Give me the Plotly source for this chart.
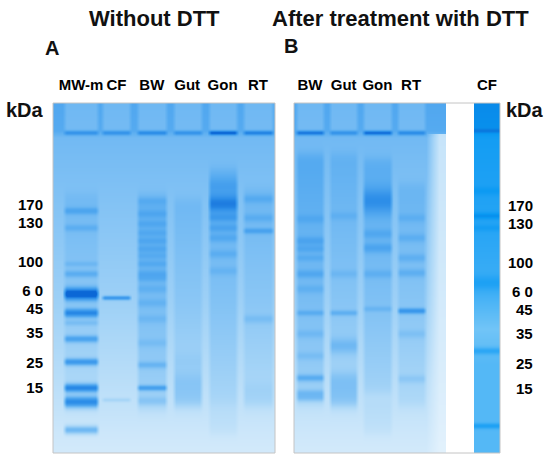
import numpy as np
import plotly.graph_objects as go

# lane names as printed above the gels
lanes_a = ["MW-m", "CF", "BW", "Gut", "Gon", "RT"]
lanes_b = ["BW", "Gut", "Gon", "RT"]
lanes_cf = ["CF"]

# marker sizes (kDa) and where their labels sit (px of migration below the gel top)
kda_text = ["170", "130", "100", "6 0", "45", "35", "25", "15"]
kda_pos = [102, 120, 159, 188, 206, 230, 260, 285]

# bands: migration (px below gel top), extra stain 0-1, band spread (px)
a_mw_pos = [29, 107, 124, 160, 170, 190, 209, 219, 235, 258, 284, 298, 326]
a_mw_int = [0.2, 0.15, 0.1, 0.08, 0.15, 0.7, 0.45, 0.1, 0.3, 0.4, 0.55, 0.55, 0.35]
a_mw_spr = [3, 5, 5, 4, 5, 8, 6, 4, 5, 5, 6, 8, 6]
a_mw_smear = [(90, 305, 0.06)]

a_cf_pos = [29, 194, 296]
a_cf_int = [0.2, 0.38, 0.1]
a_cf_spr = [3, 3, 3]
a_cf_smear = []

a_bw_pos = [29, 97, 110, 120, 129, 137, 145, 152, 160, 170, 175, 185, 199, 215, 239, 261, 284, 297]
a_bw_int = [0.25, 0.05, 0.08, 0.08, 0.08, 0.1, 0.1, 0.08, 0.1, 0.12, 0.08, 0.08, 0.08, 0.07, 0.07, 0.15, 0.32, 0.1]
a_bw_spr = [3, 5, 5, 5, 5, 5, 5, 5, 5, 6, 5, 6, 6, 6, 6, 5, 4, 6]
a_bw_smear = [(92, 305, 0.13)]

a_gut_pos = [29]
a_gut_int = [0.2]
a_gut_spr = [3]
a_gut_smear = [(95, 250, 0.07), (250, 272, 0.12), (272, 302, 0.2)]

a_gon_pos = [29, 82, 100, 114, 124, 134, 150, 167]
a_gon_int = [0.45, 0.12, 0.35, 0.16, 0.14, 0.11, 0.09, 0.07]
a_gon_spr = [3, 12, 13, 6, 6, 6, 6, 6]
a_gon_smear = [(65, 300, 0.1), (300, 330, 0.05)]

a_rt_pos = [29, 95, 114, 127, 215]
a_rt_int = [0.3, 0.09, 0.09, 0.18, 0.09]
a_rt_spr = [3, 6, 6, 4, 6]
a_rt_smear = [(85, 280, 0.07), (280, 302, 0.12)]

b_bw_pos = [29, 115, 137, 145, 154, 170, 185, 209, 230, 252, 274, 289, 294]
b_bw_int = [0.35, 0.07, 0.12, 0.1, 0.08, 0.12, 0.08, 0.13, 0.08, 0.08, 0.22, 0.15, 0.15]
b_bw_spr = [3, 6, 6, 5, 5, 6, 6, 4, 6, 6, 5, 5, 5]
b_bw_smear = [(50, 300, 0.13)]

b_gut_pos = [29, 112, 170, 209, 242]
b_gut_int = [0.2, 0.06, 0.07, 0.16, 0.15]
b_gut_spr = [3, 6, 6, 4, 11]
b_gut_smear = [(50, 270, 0.08), (270, 302, 0.24)]

b_gon_pos = [29, 97, 130, 144, 170, 205]
b_gon_int = [0.4, 0.25, 0.1, 0.14, 0.09, 0.09]
b_gon_spr = [3, 18, 7, 7, 6, 4]
b_gon_smear = [(55, 290, 0.11), (295, 330, 0.05)]

b_rt_pos = [29, 114, 134, 154, 169, 207, 230, 275]
b_rt_int = [0.25, 0.07, 0.09, 0.1, 0.12, 0.33, 0.08, 0.09]
b_rt_spr = [3, 6, 6, 6, 6, 4, 6, 6]
b_rt_smear = [(80, 302, 0.08)]

b_cf_pos = [27, 87, 112, 124, 179, 247, 322]
b_cf_int = [0.1, 0.08, 0.15, 0.08, 0.12, 0.18, 0.2]
b_cf_spr = [3, 6, 5, 5, 10, 5, 4]

# gel background stain along the run
gel_bg_y = [0, 27, 34, 120, 200, 300, 350]
gel_bg_v = [0.62, 0.6, 0.5, 0.42, 0.34, 0.2, 0.12]
cf_bg_y = [0, 25, 35, 120, 190, 225, 260, 350]
cf_bg_v = [0.9, 0.88, 0.8, 0.72, 0.62, 0.45, 0.55, 0.55]

W, H = 550, 462
GEL_TOP, GEL_BOT = 103, 453
GEL_LEN = GEL_BOT - GEL_TOP

gel_scale = [[0.0, "#eaf5fd"], [0.15, "#cde7fa"], [0.3, "#a9d6f7"], [0.45, "#80c1f4"],
             [0.6, "#55aaf0"], [0.8, "#2d8ee8"], [1.0, "#0b67d6"]]
cf_scale = [[0.0, "#d9f0fd"], [0.4, "#7fcaf7"], [0.7, "#2aa6f5"], [0.85, "#0898f2"],
            [1.0, "#0a6fd8"]]

yy = np.arange(GEL_LEN) + 0.5


def step(d, soft=3.0):
    return 1.0 / (1.0 + np.exp(-d / soft))


def lane_profile(pos, inten, spr, smear):
    prof = np.zeros_like(yy)
    for p, v, s in zip(pos, inten, spr):
        prof += v * np.exp(-0.5 * ((yy - p) / (s / 2.0)) ** 2)
    for y0, y1, v in smear:
        prof += v * step(yy - y0) * step(y1 - yy)
    return prof


def gel_image(xs, lanes, half_w):
    bg = np.interp(yy, gel_bg_y, gel_bg_v)
    well = 0.11 * step(27 - yy, 1.0)
    z = np.tile(bg[:, None], (1, len(xs)))
    for i, lane in enumerate(lanes):
        mask = np.clip((half_w[i] - np.abs(xs - i)) / 0.12 + 0.5, 0, 1)
        z += mask[None, :] * (lane_profile(*lane)[:, None] - well[:, None])
    return np.clip(z, 0, 1)


lanes_a_data = [
    (a_mw_pos, a_mw_int, a_mw_spr, a_mw_smear),
    (a_cf_pos, a_cf_int, a_cf_spr, a_cf_smear),
    (a_bw_pos, a_bw_int, a_bw_spr, a_bw_smear),
    (a_gut_pos, a_gut_int, a_gut_spr, a_gut_smear),
    (a_gon_pos, a_gon_int, a_gon_spr, a_gon_smear),
    (a_rt_pos, a_rt_int, a_rt_spr, a_rt_smear),
]
lanes_b_data = [
    (b_bw_pos, b_bw_int, b_bw_spr, b_bw_smear),
    (b_gut_pos, b_gut_int, b_gut_spr, b_gut_smear),
    (b_gon_pos, b_gon_int, b_gon_spr, b_gon_smear),
    (b_rt_pos, b_rt_int, b_rt_spr, b_rt_smear),
]

# pixel geometry of each gel strip
A_X0, A_X1, A_C0, A_STEP = 53, 275, 81, 35.4
B_X0, B_X1, B_C0, B_STEP = 294, 446, 310, 33.7
C_X0, C_X1 = 474, 500

ra = [(A_X0 - A_C0) / A_STEP, (A_X1 - A_C0) / A_STEP]
rb = [(B_X0 - B_C0) / B_STEP, (B_X1 - B_C0) / B_STEP]
xa = np.linspace(ra[0], ra[1], A_X1 - A_X0)
xb = np.linspace(rb[0], rb[1], B_X1 - B_X0)
xc = np.linspace(-0.5, 0.5, C_X1 - C_X0)

za = gel_image(xa, lanes_a_data, [0.47, 0.39, 0.39, 0.39, 0.39, 0.41])
zb = gel_image(xb, lanes_b_data, [0.4, 0.4, 0.4, 0.4])
# right edge of gel B fades to white
fade = np.clip((rb[1] - xb) / 0.6, 0.35, 1.0)
zb = zb * np.where(yy[:, None] > 30, fade[None, :], 1.0)

zc = np.interp(yy, cf_bg_y, cf_bg_v)[:, None] + \
    lane_profile(b_cf_pos, b_cf_int, b_cf_spr, [])[:, None] * np.ones((1, len(xc)))
zc = np.clip(zc, 0, 1)

fig = go.Figure()
fig.add_trace(go.Heatmap(x=xa, y=yy, z=np.round(za, 3), colorscale=gel_scale, zmin=0, zmax=1,
                         showscale=False, hoverinfo="skip", zsmooth="best", xaxis="x", yaxis="y"))
fig.add_trace(go.Heatmap(x=xb, y=yy, z=np.round(zb, 3), colorscale=gel_scale, zmin=0, zmax=1,
                         showscale=False, hoverinfo="skip", zsmooth="best", xaxis="x2", yaxis="y"))
fig.add_trace(go.Heatmap(x=xc, y=yy, z=np.round(zc, 3), colorscale=cf_scale, zmin=0, zmax=1,
                         showscale=False, hoverinfo="skip", zsmooth="best", xaxis="x3", yaxis="y"))

FONT = "Arial, Liberation Sans, sans-serif"
lane_font = dict(family=FONT, size=15, color="black", weight="bold")
top_axis = dict(side="top", ticks="", showgrid=False, zeroline=False, showline=False,
                tickfont=lane_font, ticklabelstandoff=9, fixedrange=True)

fig.update_layout(
    width=W, height=H, margin=dict(l=0, r=0, t=0, b=0),
    paper_bgcolor="white", plot_bgcolor="white", showlegend=False,
    xaxis=dict(domain=[A_X0 / W, A_X1 / W], range=ra, tickvals=list(range(len(lanes_a))),
               ticktext=lanes_a, anchor="y", **top_axis),
    xaxis2=dict(domain=[B_X0 / W, B_X1 / W], range=rb, tickvals=list(range(len(lanes_b))),
                ticktext=lanes_b, anchor="y", **top_axis),
    xaxis3=dict(domain=[C_X0 / W, C_X1 / W], range=[-0.5, 0.5], tickvals=[0],
                ticktext=lanes_cf, anchor="y", **top_axis),
    yaxis=dict(domain=[1 - GEL_BOT / H, 1 - GEL_TOP / H], range=[GEL_LEN, 0], anchor="x",
               tickvals=kda_pos, ticktext=kda_text, ticks="", showgrid=False, zeroline=False,
               tickfont=dict(family=FONT, size=15, color="black", weight="bold"),
               ticklabelstandoff=9, fixedrange=True),
)

# gel outlines
border = dict(type="rect", xref="paper", yref="paper", y0=1 - GEL_BOT / H, y1=1 - GEL_TOP / H,
              line=dict(color="#c4c4c4", width=1))
fig.add_shape(x0=A_X0 / W, x1=A_X1 / W, **border)
fig.add_shape(x0=B_X0 / W, x1=C_X1 / W, **border)

big = dict(family=FONT, size=22, color="#111111", weight="bold")
mid = dict(family=FONT, size=20, color="#111111", weight="bold")
texts = [
    ("Without DTT", 154, 19, big),
    ("After treatment with DTT", 400, 19, big),
    ("A", 52, 48, mid),
    ("B", 291, 46, mid),
    ("kDa", 25, 110, mid),
    ("kDa", 525, 110, mid),
]
for t, px, py, f in texts:
    fig.add_annotation(text=t, x=px / W, y=1 - py / H, xref="paper", yref="paper",
                       showarrow=False, xanchor="center", yanchor="middle", font=f)

# kDa scale repeated right of the CF lane
for lab, p in zip(kda_text, kda_pos):
    fig.add_annotation(text=lab, x=535 / W, y=p, xref="paper", yref="y", showarrow=False,
                       xanchor="right", yanchor="middle",
                       font=dict(family=FONT, size=15, color="black", weight="bold"))

# the page body has a default margin; drop it so the figure fills the window
fig.write_html("out.html", config={"displayModeBar": False},
               post_script="document.body.style.margin = '0px';")
